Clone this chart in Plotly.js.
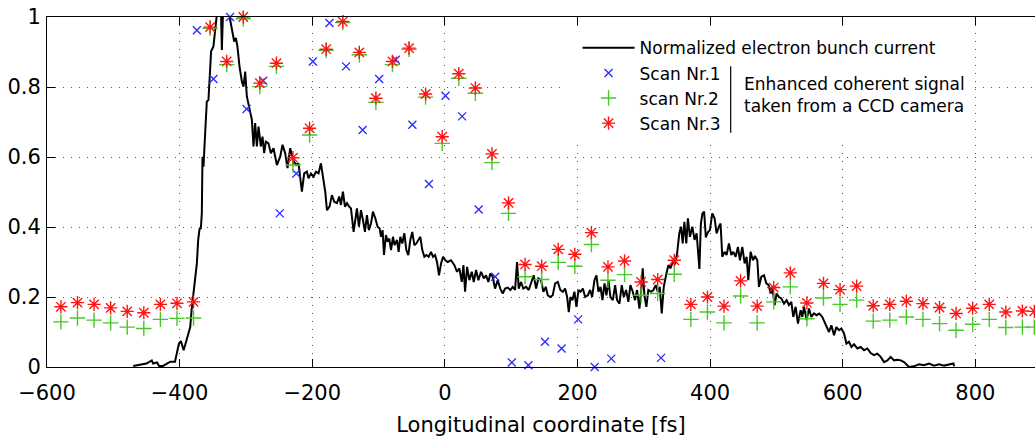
<!DOCTYPE html>
<html>
<head>
<meta charset="utf-8">
<script src="https://cdn.plot.ly/plotly-3.0.1.min.js"></script>
<style>html,body{margin:0;padding:0;background:#fff;}#chart{width:1035px;height:437px;}</style>
</head>
<body>
<div id="chart"></div>
<script>
// ---- data ----
const seriesNames = ['Normalized electron bunch current', 'Scan Nr.1', 'scan Nr.2', 'Scan Nr.3'];

const currentX = [-470,-460,-450,-442,-440,-434,-431,-425,-419,-414,-407,-404,-401,-398,-394,-391,-388,-384,-382,-379,-377,-374,-372,-370,-368,-366.5,-365.5,-364,-361.5,-359,-356.5,-354,-352.5,-349,-346.4,-343.9,-341.4,-338,-336.3,-334,-326,-323.8,-320.3,-317.7,-315.2,-312.8,-309.7,-306.1,-303.6,-301.1,-298.6,-294.6,-291,-288.6,-286.1,-283.5,-281,-277.5,-275,-272.5,-270,-266,-262.4,-258.4,-253.3,-248.3,-244.8,-240.8,-237.3,-233.2,-229.1,-224.2,-220.7,-215.6,-212.1,-208.1,-205.6,-202,-198,-194.4,-190.5,-186.9,-183.9,-180.4,-177.8,-173.9,-170.3,-166.8,-162.7,-159.3,-156.7,-153.7,-150.7,-147.6,-144.2,-141.6,-137.6,-135.1,-132.6,-129.6,-126.5,-123.5,-120.5,-117.5,-114.5,-111.4,-108.4,-104.9,-101.4,-98.4,-96.3,-93.9,-91.8,-88.8,-86.3,-83.8,-81.2,-78.2,-75.8,-72.2,-69.7,-67.2,-64.2,-61.1,-58.1,-55.1,-52.1,-49.1,-46,-43,-40,-37,-34,-30.9,-27.9,-24.4,-20.9,-17.8,-14.8,-11.8,-8.8,-5.7,-2.7,0.8,4.3,9.3,14.4,18.4,21.9,25.5,28,30.5,33.5,37,40.6,43.6,47.1,50.6,54.6,58.7,62.1,65.6,68.6,72.2,75.7,79.7,83.6,87.3,90.8,94.8,98.8,102.4,105.9,108.9,111.4,114.9,118.3,122.5,126.5,130,134,137.6,141,145.1,148.6,152.2,155.2,158.7,162.7,166.3,170.3,174.2,177.9,181.4,184.4,186.9,189.4,192.4,195.4,198.4,201.5,204.5,208.1,211.6,215.6,219.1,222.1,225.6,228.6,231.6,234.7,237.7,240.7,243.7,246.7,249.7,253.3,256.8,259.8,263.3,266.8,269.9,273.3,276.8,279.8,283.4,286.8,289.9,293.4,295.9,298.4,300.9,303.9,306.9,311,314.5,318,321.1,324.1,327.1,330.1,333.6,337.1,340.1,343.7,347.1,350.2,353.6,356.2,358.7,361.2,364.1,366.5,369.6,373.2,376.6,379.7,383.9,386.1,388.5,391,393.6,396.6,399.7,403.3,406.8,409.8,413.3,415.8,418.4,421.9,424.9,428.4,432,435,438.5,442,445,448.6,452.1,455.1,457.6,461.1,464.6,467.6,471.2,473.7,477.3,481.3,484.8,488.3,491.3,493.8,497.3,500.3,503.8,507.4,511.4,515.4,518.9,522.5,525.5,529,532.5,536.6,539.1,541.6,545.6,549.1,552.7,556.6,560.7,564.7,569.2,572.7,575.7,579.3,582.9,586.9,590.4,594.4,598,602,605.6,609.5,613.2,617.1,622.2,627.2,632.2,637.2,642.2,647.2,652.3,657.3,662.3,667.4,672.4,677.4,682.5,687.5,692.5,697.6,700,707.6,715.1,722.7,730.2,737.8,745.3,752.9,760.4,767,768];
const currentY = [0.003,0.006,0.010,0.019,0.010,0.013,0.003,0.003,0.010,0.015,0.015,0.043,0.067,0.074,0.048,0.067,0.091,0.114,0.162,0.220,0.258,0.296,0.363,0.394,0.396,0.439,0.601,0.572,0.668,0.758,0.763,0.859,0.902,0.916,0.954,0.992,1.05,1.05,0.906,1.05,1.05,0.992,0.954,0.930,0.940,0.916,0.859,0.816,0.801,0.844,0.773,0.735,0.706,0.630,0.697,0.630,0.687,0.630,0.658,0.611,0.644,0.639,0.611,0.625,0.577,0.601,0.635,0.611,0.568,0.625,0.592,0.577,0.582,0.501,0.553,0.558,0.539,0.553,0.544,0.558,0.553,0.582,0.544,0.501,0.448,0.458,0.491,0.472,0.468,0.487,0.463,0.501,0.458,0.468,0.458,0.453,0.386,0.429,0.453,0.401,0.448,0.420,0.386,0.434,0.391,0.410,0.444,0.425,0.401,0.396,0.372,0.391,0.320,0.377,0.358,0.367,0.334,0.372,0.348,0.363,0.329,0.372,0.353,0.382,0.334,0.320,0.363,0.386,0.348,0.353,0.363,0.372,0.334,0.315,0.320,0.315,0.329,0.315,0.320,0.300,0.262,0.296,0.315,0.305,0.300,0.305,0.291,0.272,0.282,0.243,0.291,0.215,0.286,0.248,0.272,0.243,0.277,0.248,0.272,0.253,0.262,0.243,0.267,0.258,0.224,0.248,0.224,0.210,0.224,0.227,0.220,0.229,0.220,0.300,0.224,0.243,0.224,0.229,0.220,0.239,0.262,0.224,0.253,0.248,0.215,0.229,0.205,0.200,0.205,0.239,0.243,0.220,0.215,0.224,0.200,0.157,0.200,0.191,0.215,0.172,0.220,0.215,0.224,0.200,0.205,0.220,0.200,0.248,0.262,0.215,0.229,0.191,0.239,0.205,0.248,0.200,0.191,0.234,0.191,0.181,0.234,0.200,0.220,0.186,0.234,0.215,0.191,0.220,0.167,0.210,0.282,0.205,0.172,0.220,0.215,0.220,0.234,0.215,0.229,0.153,0.229,0.262,0.291,0.282,0.300,0.296,0.324,0.382,0.401,0.353,0.415,0.353,0.425,0.372,0.401,0.363,0.382,0.280,0.410,0.439,0.444,0.370,0.385,0.391,0.439,0.425,0.382,0.401,0.410,0.315,0.329,0.320,0.353,0.320,0.329,0.315,0.343,0.305,0.343,0.296,0.315,0.248,0.329,0.305,0.317,0.305,0.229,0.258,0.262,0.239,0.234,0.210,0.229,0.177,0.210,0.200,0.196,0.181,0.191,0.177,0.186,0.143,0.172,0.124,0.162,0.143,0.172,0.134,0.167,0.143,0.153,0.148,0.153,0.143,0.129,0.114,0.100,0.119,0.091,0.114,0.105,0.110,0.096,0.067,0.072,0.057,0.065,0.053,0.057,0.048,0.053,0.040,0.034,0.038,0.029,0.014,0.019,0.029,0.019,0.021,0.019,0.014,0.005,0.000,0.002,0.008,0.005,0.010,0.004,0.008,0.004,0.008,0.010,0.002];

const scan1X = [-374,-349,-324,-299,-274,-249,-224,-199,-174,-149,-124,-99,-74,-49,-24,1,26,51,76,101,126,151,176,201,226,251,326];
const scan1Y = [0.962,0.823,1.0,0.737,0.818,0.439,0.553,0.873,0.983,0.859,0.677,0.823,0.878,0.692,0.523,0.775,0.716,0.450,0.258,0.013,0.005,0.072,0.053,0.136,0.0,0.024,0.026];

const scanX = [-579,-554,-529,-504,-479,-454,-429,-404,-379,-354,-329,-304,-279,-254,-229,-204,-179,-154,-129,-104,-79,-54,-29,-4,21,46,71,96,121,146,171,196,221,246,271,296,321,346,371,396,421,446,471,496,521,546,571,596,621,646,671,696,721,746,771,796,821,846,871,889];
const scan2Y = [0.129,0.140,0.134,0.126,0.114,0.110,0.136,0.139,0.140,0.968,0.864,0.995,0.801,0.859,0.577,0.663,0.905,0.984,0.892,0.756,0.864,0.908,0.771,0.639,0.825,0.782,0.584,0.439,0.258,0.250,0.299,0.288,0.350,0.248,0.264,0.205,0.210,0.265,0.136,0.157,0.126,0.203,0.126,0.186,0.229,0.138,0.197,0.179,0.191,0.131,0.134,0.143,0.136,0.124,0.105,0.122,0.136,0.113,0.114,0.114];
const scan3Y = [0.172,0.184,0.179,0.169,0.159,0.155,0.179,0.182,0.186,0.971,0.873,1.0,0.811,0.868,0.598,0.682,0.908,0.987,0.899,0.768,0.873,0.911,0.780,0.658,0.838,0.797,0.609,0.469,0.293,0.288,0.336,0.322,0.384,0.286,0.303,0.243,0.250,0.305,0.179,0.200,0.174,0.246,0.174,0.227,0.269,0.183,0.239,0.221,0.231,0.175,0.179,0.188,0.181,0.170,0.153,0.168,0.179,0.157,0.160,0.159];

const xTickVals = [-600,-400,-200,0,200,400,600,800];
const yTickVals = [0,0.2,0.4,0.6,0.8,1];
const yTickText = ['0','0.2','0.4','0.6','0.8','1'];
const xTitle = 'Longitudinal coordinate [fs]';
const noteText = 'Enhanced coherent signal<br>taken from a CCD camera';

// ---- chart ----
const FONT = 'DejaVu Sans';
const traces = [
  {x: currentX, y: currentY, name: seriesNames[0], type: 'scatter', mode: 'lines',
   line: {color: '#000', width: 2}},
  {x: scan1X, y: scan1Y, name: seriesNames[1], type: 'scatter', mode: 'markers', cliponaxis: false,
   marker: {symbol: 'x-thin-open', size: 8, color: 'rgb(40,40,255)', line: {color: 'rgb(40,40,255)', width: 1.3}}},
  {x: scanX, y: scan2Y, name: seriesNames[2], type: 'scatter', mode: 'markers', cliponaxis: false,
   marker: {symbol: 'cross-thin-open', size: 11, color: 'rgb(70,200,40)', line: {color: 'rgb(70,200,40)', width: 1.4}}},
  {x: scanX, y: scan3Y, name: seriesNames[3], type: 'scatter', mode: 'markers', cliponaxis: false,
   marker: {symbol: 'asterisk-open', size: 11, color: 'rgb(255,20,20)', line: {color: 'rgb(255,20,20)', width: 1.4}}}
];

const axisCommon = {
  ticks: 'inside', ticklen: 8, tickwidth: 1, tickcolor: '#000',
  showline: true, linecolor: '#000', linewidth: 1,
  showgrid: true, gridcolor: '#555', gridwidth: 1, griddash: '1px,7px',
  zeroline: false, tickfont: {family: FONT, size: 21, color: '#000'}
};

const layout = {
  width: 1035, height: 437,
  margin: {l: 47, r: 0, t: 17, b: 70},
  paper_bgcolor: '#fff', plot_bgcolor: '#fff',
  font: {family: FONT, size: 21, color: '#000'},
  showlegend: true,
  xaxis: Object.assign({}, axisCommon, {
    range: [-600, 890], tickmode: 'array', tickvals: xTickVals, mirror: 'ticks',
    ticklabelstandoff: 7,
    title: {text: xTitle, font: {family: FONT, size: 21, color: '#000'}, standoff: 15}
  }),
  yaxis: Object.assign({}, axisCommon, {
    range: [0, 1], tickmode: 'array', tickvals: yTickVals, ticktext: yTickText, mirror: false,
    ticklabelstandoff: 1
  }),
  legend: {
    x: 0.537, y: 0.962, xanchor: 'left', yanchor: 'top',
    bgcolor: 'rgba(0,0,0,0)', borderwidth: 0,
    font: {family: FONT, size: 17, color: '#000'},
    itemwidth: 52, tracegroupgap: 0
  },
  shapes: [
    {type: 'rect', xref: 'paper', yref: 'paper', x0: 0.5263, x1: 0.9342, y0: 0.6345, y1: 0.9694,
     fillcolor: '#fff', line: {width: 0}, layer: 'above'},
    {type: 'line', xref: 'paper', yref: 'paper', x0: 0.692, x1: 0.692, y0: 0.669, y1: 0.859,
     line: {color: '#000', width: 1.2}, layer: 'above'}
  ],
  annotations: [
    {xref: 'paper', yref: 'paper', x: 0.7035, y: 0.776, xanchor: 'left', yanchor: 'middle',
     align: 'left', showarrow: false, text: noteText,
     font: {family: FONT, size: 17, color: '#000'}}
  ]
};

Plotly.newPlot('chart', traces, layout, {displayModeBar: false, responsive: false});
</script>
</body>
</html>
